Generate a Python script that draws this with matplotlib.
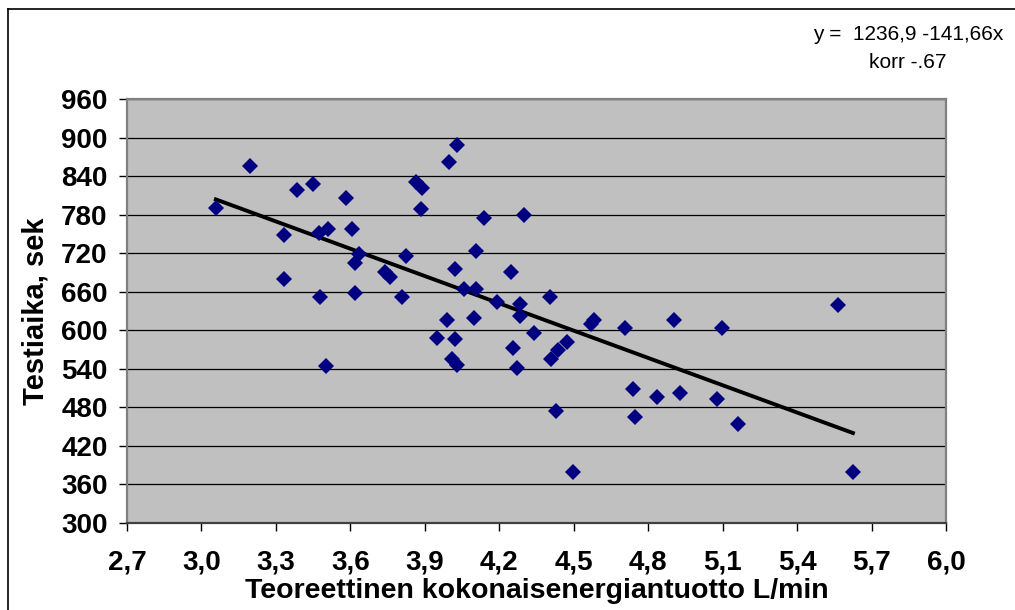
import numpy as np
import matplotlib
matplotlib.use("Agg")
import matplotlib.pyplot as plt
from matplotlib.lines import Line2D

plt.rcParams['font.family'] = ['Liberation Sans', 'DejaVu Sans']

# energiantuotto (L/min) ja testiaika (s)
energia = [3.058, 3.197, 3.386, 3.449, 3.331, 3.332, 3.581, 3.473, 3.510, 3.606,
           3.635, 3.620, 3.741, 3.761, 3.824, 3.865, 3.889, 3.886, 4.028, 3.996,
           4.137, 4.301, 4.107, 4.020, 4.246, 3.808, 4.059, 4.107, 4.192, 4.285,
           4.285, 4.404, 3.988, 4.099, 3.951, 4.020, 4.010, 4.028, 4.254, 4.270,
           4.340, 4.474, 4.436, 4.410, 4.581, 4.568, 4.708, 4.904, 4.740, 4.834,
           4.928, 4.746, 4.427, 4.498, 3.478, 3.620, 3.503, 5.099, 5.563, 5.077,
           5.163, 5.625]
aika = [791, 855, 819, 827, 748, 680, 806, 752, 757, 757,
        719, 704, 691, 683, 715, 831, 821, 789, 889, 862,
        775, 779, 723, 695, 690, 652, 665, 665, 644, 641,
        622, 652, 616, 619, 588, 586, 556, 546, 573, 542,
        595, 582, 570, 555, 616, 610, 603, 616, 508, 496,
        503, 465, 474, 379, 652, 658, 545, 603, 640, 493,
        454, 379]

# trendiviiva
vakio = 1236.9
kulma = -141.66

x_ticks = [2.7, 3.0, 3.3, 3.6, 3.9, 4.2, 4.5, 4.8, 5.1, 5.4, 5.7, 6.0]
x_labels = ["2,7", "3,0", "3,3", "3,6", "3,9", "4,2", "4,5", "4,8", "5,1", "5,4", "5,7", "6,0"]
y_ticks = list(range(300, 961, 60))

fig = plt.figure(figsize=(10.15, 6.1), dpi=100)
fig.patch.set_facecolor("white")

# ulkoreunus
fig.add_artist(Line2D([8/1015, 8/1015], [0, 1 - 9/610], transform=fig.transFigure,
                      color="black", lw=1.2))
fig.add_artist(Line2D([8/1015, 1], [1 - 9/610, 1 - 9/610], transform=fig.transFigure,
                      color="black", lw=1.2))

ax = fig.add_axes([127/1015, 1 - 523/610, 819/1015, 424/610])
ax.set_facecolor("#C0C0C0")
ax.set_xlim(2.7, 6.0)
ax.set_ylim(300, 960)

for y in y_ticks:
    ax.axhline(y, color="black", lw=0.9, zorder=1)

xs = np.array([min(energia), max(energia)])
ax.plot(xs, vakio + kulma * xs, color="black", lw=2.8, zorder=3)
ax.plot(energia, aika, "D", color="#000080", markersize=8.5, markeredgewidth=0, zorder=4)

for s in ax.spines.values():
    s.set_color("#808080")
    s.set_linewidth(1.6)
ax.spines["bottom"].set_color("#404040")

ax.set_xticks(x_ticks)
ax.set_xticklabels(x_labels)
ax.set_yticks(y_ticks)
ax.tick_params(axis="x", length=6, width=1, pad=13, labelsize=20)
ax.tick_params(axis="y", length=6, width=1, pad=8, labelsize=20)
for lab in ax.get_xticklabels() + ax.get_yticklabels():
    lab.set_fontweight("bold")

ax.set_xlabel("Teoreettinen kokonaisenergiantuotto L/min", fontsize=20.5, fontweight="bold", labelpad=2)
ax.set_ylabel("Testiaika, sek", fontsize=21, fontweight="bold", labelpad=8)

fig.text(1003/1015, 1 - 34/610, "y =  1236,9 -141,66x", ha="right", va="center", fontsize=15)
fig.text(908/1015, 1 - 63/610, "korr -.67", ha="center", va="center", fontsize=15)

plt.savefig("out.png", dpi=100)
